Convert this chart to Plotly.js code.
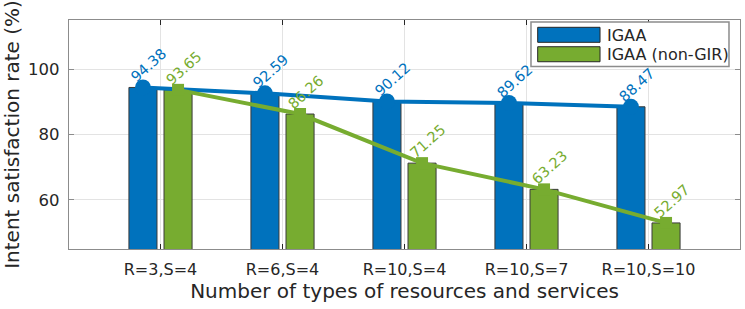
<!DOCTYPE html>
<html>
<head>
<meta charset="utf-8">
<script src="https://cdn.plot.ly/plotly-3.0.1.min.js"></script>
<style>html,body{margin:0;padding:0;background:#fff;}#chart{width:745px;height:309px;}</style>
</head>
<body>
<div id="chart"></div>
<script>
// ---- data ----
const categories = ["R=3,S=4", "R=6,S=4", "R=10,S=4", "R=10,S=7", "R=10,S=10"];
const seriesNames = ["IGAA", "IGAA (non-GIR)"];
const igaa = [94.38, 92.59, 90.12, 89.62, 88.47];
const igaaNonGIR = [93.65, 86.26, 71.25, 63.23, 52.97];
const yTicks = [60, 80, 100];

// ---- style ----
const BLUE = "#0072BD", GREEN = "#77AC30";
const FONT = "DejaVu Sans";
const TXT = "#262626";
const BARGAP = 0.425, GROUPGAP = 0.2;
const slot = (1 - BARGAP) / 2;
const off = slot / 2; // bar centre offset from category centre

const idx = categories.map((c, i) => i);

const traces = [
  {type: "bar", x: idx, y: igaa, name: seriesNames[0], marker: {color: BLUE, line: {color: "#3a3a3a", width: 1}}, showlegend: false, hoverinfo: "skip"},
  {type: "bar", x: idx, y: igaaNonGIR, name: seriesNames[1], marker: {color: GREEN, line: {color: "#3a3a3a", width: 1}}, showlegend: false, hoverinfo: "skip"},
  {type: "scatter", mode: "lines+markers", x: idx.map(i => i - off), y: igaa, line: {color: BLUE, width: 4}, marker: {symbol: "circle", size: 16, color: BLUE}, showlegend: false, hoverinfo: "skip", cliponaxis: false},
  {type: "scatter", mode: "lines+markers", x: idx.map(i => i + off), y: igaaNonGIR, line: {color: GREEN, width: 4}, marker: {symbol: "square", size: 12, color: GREEN}, showlegend: false, hoverinfo: "skip", cliponaxis: false}
];

const annotations = [];
[[igaa, -off, BLUE], [igaaNonGIR, off, GREEN]].forEach(([vals, dx, col]) => {
  vals.forEach((v, i) => {
    annotations.push({x: i + dx, y: v, xref: "x", yref: "y", text: v.toFixed(2), showarrow: false,
      textangle: -42, xshift: 6, yshift: 22,
      font: {family: FONT, size: 14.5, color: col}});
  });
});

// custom legend (paper coordinates)
const shapes = [
  {type: "rect", xref: "paper", yref: "paper", x0: 0.6885, x1: 0.9836, y0: 0.7967, y1: 0.9913, fillcolor: "#ffffff", line: {color: "#8c8c8c", width: 1.5}, layer: "above"},
  {type: "rect", xref: "paper", yref: "paper", x0: 0.6985, x1: 0.7914, y0: 0.9025, y1: 0.9681, fillcolor: BLUE, line: {color: "#262626", width: 1}, layer: "above"},
  {type: "rect", xref: "paper", yref: "paper", x0: 0.6985, x1: 0.7914, y0: 0.8177, y1: 0.8833, fillcolor: GREEN, line: {color: "#262626", width: 1}, layer: "above"}
];
annotations.push({xref: "paper", yref: "paper", x: 0.7988, y: 0.9344, text: seriesNames[0], showarrow: false, xanchor: "left", yanchor: "middle", font: {family: FONT, size: 16, color: TXT}});
annotations.push({xref: "paper", yref: "paper", x: 0.7988, y: 0.8505, text: seriesNames[1], showarrow: false, xanchor: "left", yanchor: "middle", font: {family: FONT, size: 16, color: TXT}});

const layout = {
  width: 745, height: 309,
  margin: {l: 69, r: 5, t: 20, b: 60, pad: 0},
  paper_bgcolor: "#fff", plot_bgcolor: "#fff",
  barmode: "group", bargap: BARGAP, bargroupgap: GROUPGAP,
  font: {family: FONT, color: TXT},
  xaxis: {
    range: [-0.75, 4.75], tickvals: idx, ticktext: categories,
    showgrid: true, gridcolor: "#e3e3e3", gridwidth: 1, zeroline: false,
    showline: true, linecolor: "#8c8c8c", linewidth: 1.3, mirror: "ticks",
    ticks: "inside", ticklen: 5, tickcolor: "#262626", tickwidth: 1,
    tickfont: {family: FONT, size: 16, color: TXT}, ticklabelstandoff: 5,
    title: {text: "Number of types of resources and services", font: {family: FONT, size: 20, color: TXT}, standoff: 6},
    automargin: false, fixedrange: true
  },
  yaxis: {
    range: [45, 115], tickvals: yTicks,
    showgrid: true, gridcolor: "#e3e3e3", gridwidth: 1, zeroline: false,
    showline: true, linecolor: "#8c8c8c", linewidth: 1.3, mirror: "ticks",
    ticks: "inside", ticklen: 5, tickcolor: "#8c8c8c", tickwidth: 1,
    tickfont: {family: FONT, size: 16.5, color: TXT}, ticklabelstandoff: 5,
    title: {text: "Intent satisfaction rate (%)", font: {family: FONT, size: 20, color: TXT}, standoff: 6},
    automargin: false, fixedrange: true
  },
  shapes: shapes,
  annotations: annotations
};

Plotly.newPlot("chart", traces, layout, {displayModeBar: false, staticPlot: true});
</script>
</body>
</html>
